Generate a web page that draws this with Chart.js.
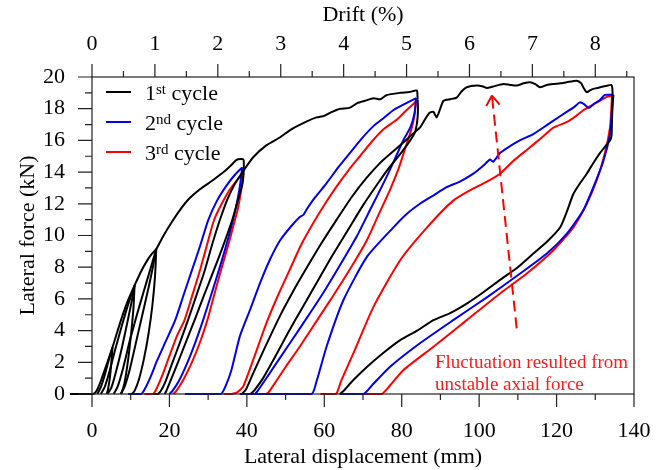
<!DOCTYPE html>
<html lang="en">
<head>
<meta charset="UTF-8">
<title>Lateral force vs lateral displacement</title>
<script src="https://cdn.jsdelivr.net/npm/chart.js"></script>
<style>
  html, body { margin: 0; padding: 0; background: #fff; }
  #wrap { width: 668px; height: 470px; }
</style>
</head>
<body>
<div id="wrap"><canvas id="loops"></canvas></div>
<script>
// axis ticks (mm, kN, % drift)
const dispTicks = [0, 20, 40, 60, 80, 100, 120, 140];
const dispMinor = [10, 30, 50, 70, 90, 110, 130];
const forceTicks = [0, 2, 4, 6, 8, 10, 12, 14, 16, 18, 20];
const forceMinor = [1, 3, 5, 7, 9, 11, 13, 15, 17, 19];
const driftTicks = [0, 1, 2, 3, 4, 5, 6, 7, 8];
const driftMinor = [0.5, 1.5, 2.5, 3.5, 4.5, 5.5, 6.5, 7.5, 8.5];
const mmPerDrift = 16.25;

// 1st cycle (black): [displacement mm, force kN]
const k_env = [[-5.7,0],[0,0],[0.7,0.05],[1.5,0.35],[2.4,0.9],[3.4,1.6],[4.4,2.3],[5.3,2.95],[6.5,3.9],[7.8,4.9],[9.3,5.9],[11,6.85],[12.6,7.7],[14.2,8.4],[15.5,8.85],[16.6,9.15],[18.5,10.0],[20.5,10.8],[22.7,11.6],[25,12.3],[27.8,12.9],[31.3,13.5],[34,14.0],[36,14.45],[37.4,14.78],[39.1,14.8],[39.2,14.0]];
const k_s1 = [[1.4,0],[2.3,0.45],[3.3,1.2],[4.4,2.2],[5.3,2.95]];
const k_s1u = [[5.3,2.95],[5.0,2.0],[4.6,1.0],[4.1,0.25],[3.8,0]];
const k_s2a = [[2.3,0],[3.3,0.45],[4.6,1.5],[6.1,2.9],[7.7,4.3],[9.4,5.7],[11,6.85]];
const k_s2b = [[4.0,0],[5.0,0.4],[6.3,1.5],[7.8,3.0],[9.2,4.6],[10.3,5.9],[11,6.85]];
const k_s2u = [[11,6.85],[10.7,5.4],[10.1,3.8],[9.3,2.1],[8.4,0.7],[7.6,0]];
const k_s3a = [[5.6,0],[6.6,0.45],[8,1.6],[9.8,3.4],[11.6,5.0],[13.4,6.5],[15.1,7.9],[16.6,9.15]];
const k_s3b = [[7.4,0],[8.4,0.45],[9.8,1.6],[11.5,3.4],[13.1,5.1],[14.6,6.7],[15.8,8.1],[16.6,9.15]];
const k_s3u = [[16.6,9.15],[16.3,7.5],[15.6,5.6],[14.6,3.8],[13.4,2.2],[12.1,0.9],[11,0.2],[10.3,0]];
const k_u39 = [[39.2,14.0],[38.9,13.3],[37.8,12.3],[36.2,10.96],[33.8,9.3],[31.3,7.7],[28.9,6.2],[26.5,4.66],[24.3,3.3],[22.2,2.0],[20.4,0.9],[19.3,0.25],[18.8,0]];
const k_l84 = [[15.8,0],[17,0],[17.8,0.2],[19,0.8],[20.8,2.0],[22.8,3.3],[24.8,4.66],[26.8,6.1],[29,7.7],[31,9.4],[33,10.96],[35,12.3],[37,13.3],[39.3,14.15],[41.7,14.95],[45.1,15.7],[48.6,16.2],[51.5,16.7],[55.5,17.2],[58,17.45],[60,17.55],[62,17.8],[64.1,18.0],[66.5,18.05],[68.5,18.35],[70.5,18.5],[72.7,18.66],[74.5,18.6],[76,18.85],[79.6,19.0],[82,19.05],[83.9,19.15],[84.1,18.6]];
const k_u84 = [[84.1,18.6],[84.2,18.0],[84.0,17.2],[83.4,16.5],[82.2,16.0],[79.8,15.2],[76.8,14.3],[73.6,13.2],[70,11.9],[66,10.3],[62,8.7],[58,7.0],[54,5.3],[50.5,3.8],[47.2,2.3],[44.2,1.0],[42,0.25],[41,0]];
const k_l134 = [[38.7,0],[39.8,0.3],[41.8,1.4],[44.8,3.0],[48.5,4.9],[52,6.5],[55.8,8.1],[59.5,9.6],[63.2,11.0],[67,12.4],[70.8,13.6],[74.5,14.6],[78.2,15.4],[81,16.0],[82.8,16.4],[84.7,16.8],[86.2,17.4],[87.2,17.75],[88.2,17.8],[89,17.45],[89.8,17.9],[90.8,18.5],[92.5,18.6],[94.2,18.7],[95.5,19.1],[96.8,19.35],[99.4,19.46],[101,19.4],[102,19.3],[103.6,19.4],[106.3,19.56],[108,19.5],[109.7,19.46],[111.5,19.6],[113.1,19.67],[114.5,19.55],[115.7,19.35],[117.5,19.5],[119.2,19.56],[121,19.6],[122.6,19.67],[125.2,19.77],[126.4,19.6],[126.9,19.35],[127.8,19.04],[128.6,19.15],[129.5,19.25],[130.5,19.3],[131.2,19.35],[133,19.45],[134.1,19.5],[134.4,19.3],[134.5,18.5]];
const k_u134 = [[134.5,18.5],[134.3,17.2],[134.2,16.3],[133.8,16.0],[131.2,15.2],[129.3,14.5],[127.8,13.9],[125.8,13.2],[124.3,12.6],[122.8,11.6],[120.9,10.5],[117.5,9.6],[114,8.86],[110,8.0],[105.4,7.2],[101,6.4],[96.8,5.7],[92.5,5.1],[88.2,4.66],[84,4.0],[79.6,3.4],[75.3,2.6],[71,1.7],[67.2,0.8],[65,0.2],[64,0]];

// 2nd cycle (blue)
const c2_l39 = [[9.3,0],[12.7,0],[13.6,0.3],[15,1.0],[16.8,2.1],[19,3.3],[21.5,4.66],[23.6,6.2],[25.8,7.8],[28,9.4],[30,10.96],[32.3,12.2],[34.6,13.1],[36.8,13.8],[38.8,14.3]];
const c2_u39 = [[38.8,14.3],[38.2,13.1],[37.2,11.8],[35.6,10.2],[33.5,8.4],[31.1,6.5],[28.7,4.66],[26.6,3.2],[24.5,1.9],[22.4,0.8],[20.8,0.2],[20,0]];
const c2_l84 = [[24,0],[33.3,0],[34.5,0.5],[36,1.5],[38.2,3.65],[40.8,5.3],[43.4,7.0],[46,8.5],[48.6,9.7],[51.5,10.6],[53.6,11.15],[54.6,11.3],[55.6,11.7],[57.6,12.4],[60.6,13.3],[63.6,14.3],[66.6,15.2],[69.6,16.1],[72.7,16.9],[75.3,17.4],[77.8,17.9],[80.8,18.3],[83.7,18.66]];
const c2_u84 = [[83.7,18.66],[83.3,17.7],[82.2,16.8],[80.4,16.0],[78,14.7],[75.3,13.3],[72,11.7],[68.4,9.95],[64,8.1],[59.8,6.4],[55.5,4.8],[51.1,3.2],[47.5,1.9],[44.5,0.8],[42.8,0.2],[42.1,0]];
const c2_l134 = [[38.2,0],[56.7,0],[58,0.8],[60.6,3.0],[64.9,5.9],[71,8.65],[77.8,10.5],[81,11.3],[84.7,12.0],[88,12.5],[91.6,13.05],[95,13.4],[98.5,13.9],[101.5,14.5],[102.8,14.8],[103.6,14.65],[105.4,15.2],[107.1,15.5],[110.5,16.0],[114,16.4],[116.5,16.8],[119.2,17.25],[122.6,17.8],[124.5,18.1],[126,18.4],[127,18.3],[128.4,18.05],[129.6,18.3],[131.2,18.55],[132.5,18.87],[134.7,18.87]];
const c2_u134 = [[134.7,18.87],[134.3,17.9],[133.8,16.4],[132.1,14.7],[129.5,13.05],[126.9,11.6],[122.6,10.1],[117.5,8.86],[110.6,7.6],[102,6.1],[93.3,4.66],[84.7,3.2],[77,1.72],[72.5,0.6],[70.1,0],[64,0]];

// 3rd cycle (red)
const c3_l39 = [[13.5,0],[15.8,0],[16.8,0.4],[18.2,1.2],[20,2.4],[22,3.7],[23.9,4.66],[26,6.3],[28,7.9],[29.8,9.5],[31.5,10.96],[33.5,12.0],[35.6,12.9],[37.5,13.5],[39,13.9]];
const c3_u39 = [[39,13.9],[38.5,12.8],[37.6,11.6],[36.9,10.96],[35.2,9.4],[33.3,7.8],[31.5,6.2],[29.8,4.66],[27.8,3.2],[25.8,2.0],[23.6,0.9],[21.8,0.2],[21,0]];
const c3_l84 = [[34,0],[36,0],[37.5,0.1],[39.1,0.5],[42,2.4],[45.1,4.5],[48,6.2],[51.1,7.85],[54,9.4],[57.2,10.8],[60.2,12.0],[63.2,13.1],[66.2,14.1],[69.2,15.0],[72.2,15.9],[75.3,16.7],[78.7,17.3],[81.2,17.9],[83.7,18.45]];
const c3_u84 = [[83.7,18.45],[83.3,17.6],[82.5,16.7],[81.3,15.8],[79.3,14.3],[77,12.9],[74,11.3],[71,9.7],[66.7,7.9],[62.3,6.2],[58,4.6],[53.7,3.0],[50,1.7],[47,0.6],[45.6,0.1],[45,0]];
const c3_l134 = [[59,0],[63,0],[64.3,0.8],[67.5,2.56],[72.7,5.5],[79.6,8.44],[86.5,10.5],[93.3,12.2],[98,12.9],[102,13.4],[105.4,13.9],[108.8,14.7],[112.3,15.4],[115.8,16.1],[119.2,16.8],[122.6,17.15],[124.8,17.5],[126.9,17.9],[129,18.2],[131.2,18.5],[133,18.75],[134.3,18.8]];
const c3_u134 = [[134.3,18.8],[134.1,17.8],[133.8,16.8],[132.5,15.2],[130.4,13.5],[127.8,12.0],[124.3,10.5],[119.2,9.07],[112.3,7.6],[105.4,6.34],[96.8,4.66],[88.2,2.98],[80.4,1.5],[76.5,0.4],[74.8,0],[70.1,0]];

const cycle1Lines = [k_env, k_s1, k_s1u, k_s2a, k_s2b, k_s2u, k_s3a, k_s3b, k_s3u, k_u39, k_l84, k_u84, k_l134, k_u134];
const cycle2Lines = [c2_l39, c2_u39, c2_l84, c2_u84, c2_l134, c2_u134];
const cycle3Lines = [c3_l39, c3_u39, c3_l84, c3_u84, c3_l134, c3_u134];

const cycleNames = [['1', 'st'], ['2', 'nd'], ['3', 'rd']];
const cycleColors = ['#000000', '#0000ee', '#ff0000'];

const noteLines = ['Fluctuation resulted from', 'unstable axial force'];
const noteAt = [88.6, 1.95];
const arrowTail = [109.7, 4.14];
const arrowHead = [103.3, 18.83];

const serif = "'Liberation Serif', 'Times New Roman', serif";
Chart.defaults.font.family = serif;
Chart.defaults.color = '#000';

const datasets = [];
[cycle1Lines, cycle2Lines, cycle3Lines].forEach((lines, i) => {
  lines.forEach(pts => datasets.push({
    data: pts.map(p => ({ x: p[0], y: p[1] })),
    borderColor: cycleColors[i],
    borderWidth: 2,
    pointRadius: 0,
    showLine: true,
    tension: 0.2,
    clip: false
  }));
});

// frame, tick marks, legend and the arrow note
const decorations = {
  id: 'decorations',
  afterDatasetsDraw(chart) {
    const { ctx, chartArea: a, scales } = chart;
    const xs = scales.x, ys = scales.y, dr = scales.drift;
    ctx.save();
    ctx.strokeStyle = '#222';
    ctx.lineWidth = 1.2;
    ctx.strokeRect(a.left, a.top, a.right - a.left, a.bottom - a.top);
    ctx.beginPath();
    dispTicks.forEach(v => { const p = xs.getPixelForValue(v); ctx.moveTo(p, a.bottom); ctx.lineTo(p, a.bottom + 13); });
    dispMinor.forEach(v => { const p = xs.getPixelForValue(v); ctx.moveTo(p, a.bottom); ctx.lineTo(p, a.bottom + 6); });
    forceTicks.forEach(v => { const p = ys.getPixelForValue(v); ctx.moveTo(a.left, p); ctx.lineTo(a.left - 14, p); });
    forceMinor.forEach(v => { const p = ys.getPixelForValue(v); ctx.moveTo(a.left, p); ctx.lineTo(a.left - 7, p); });
    driftTicks.forEach(v => { const p = dr.getPixelForValue(v); ctx.moveTo(p, a.top); ctx.lineTo(p, a.top - 13); });
    driftMinor.forEach(v => { const p = dr.getPixelForValue(v); ctx.moveTo(p, a.top); ctx.lineTo(p, a.top - 6); });
    ctx.stroke();

    // legend with superscript ordinals
    cycleNames.forEach((n, i) => {
      const base = 99.5 + i * 30;
      ctx.strokeStyle = cycleColors[i];
      ctx.lineWidth = 2;
      ctx.beginPath();
      ctx.moveTo(106, base - 7.5);
      ctx.lineTo(131, base - 7.5);
      ctx.stroke();
      ctx.fillStyle = '#000';
      ctx.textBaseline = 'alphabetic';
      ctx.textAlign = 'left';
      ctx.font = '22px ' + serif;
      ctx.fillText(n[0], 145, base);
      let x = 145 + ctx.measureText(n[0]).width;
      ctx.font = '15px ' + serif;
      ctx.fillText(n[1], x, base - 6);
      x += ctx.measureText(n[1]).width;
      ctx.font = '22px ' + serif;
      ctx.fillText(' cycle', x, base);
    });

    // dashed arrow
    const tx = xs.getPixelForValue(arrowTail[0]), ty = ys.getPixelForValue(arrowTail[1]);
    const hx = xs.getPixelForValue(arrowHead[0]), hy = ys.getPixelForValue(arrowHead[1]);
    const ang = Math.atan2(hy - ty, hx - tx);
    ctx.strokeStyle = '#ff0000';
    ctx.lineWidth = 2;
    ctx.setLineDash([11, 6]);
    ctx.beginPath();
    ctx.moveTo(tx, ty);
    ctx.lineTo(hx - Math.cos(ang) * 2, hy - Math.sin(ang) * 2);
    ctx.stroke();
    ctx.setLineDash([]);
    ctx.beginPath();
    [0.6, -0.6].forEach(d => {
      ctx.moveTo(hx, hy);
      ctx.lineTo(hx - Math.cos(ang + d) * 12, hy - Math.sin(ang + d) * 12);
    });
    ctx.stroke();

    ctx.fillStyle = '#ff1a1a';
    ctx.font = '19px ' + serif;
    ctx.textBaseline = 'middle';
    const nx = xs.getPixelForValue(noteAt[0]), ny = ys.getPixelForValue(noteAt[1]);
    noteLines.forEach((t, i) => ctx.fillText(t, nx, ny + i * 22));
    ctx.restore();
  }
};

new Chart(document.getElementById('loops'), {
  type: 'scatter',
  data: { datasets },
  options: {
    responsive: true,
    maintainAspectRatio: false,
    animation: false,
    devicePixelRatio: 1,
    layout: { padding: { left: 0, right: 34, top: 0, bottom: 0 } },
    plugins: { legend: { display: false }, tooltip: { enabled: false } },
    scales: {
      x: {
        type: 'linear', position: 'bottom', min: 0, max: 140,
        grid: { display: false, drawTicks: false }, border: { display: false },
        afterBuildTicks: s => { s.ticks = dispTicks.map(v => ({ value: v })); },
        ticks: { font: { size: 22 }, padding: 24, maxRotation: 0 },
        title: { display: true, text: 'Lateral displacement (mm)', font: { size: 22 }, padding: { top: 0, bottom: 0 } },
        afterFit: s => { s.height = 76; s.paddingLeft = 0; s.paddingRight = 0; }
      },
      drift: {
        type: 'linear', position: 'top', axis: 'x', min: 0, max: 140 / mmPerDrift,
        grid: { display: false, drawTicks: false }, border: { display: false },
        afterBuildTicks: s => { s.ticks = driftTicks.map(v => ({ value: v })); },
        ticks: { font: { size: 22 }, padding: 20, maxRotation: 0 },
        title: { display: true, text: 'Drift (%)', font: { size: 22 }, padding: { top: 2, bottom: 0 } },
        afterFit: s => { s.height = 77; s.paddingLeft = 0; s.paddingRight = 0; }
      },
      y: {
        type: 'linear', position: 'left', min: 0, max: 20,
        grid: { display: false, drawTicks: false }, border: { display: false },
        afterBuildTicks: s => { s.ticks = forceTicks.map(v => ({ value: v })); },
        ticks: { font: { size: 22 }, padding: 27 },
        title: { display: true, text: 'Lateral force (kN)', font: { size: 22 }, padding: { top: 15, bottom: 0 } },
        afterFit: s => { s.width = 92; s.paddingTop = 0; s.paddingBottom = 0; }
      }
    }
  },
  plugins: [decorations]
});
</script>
</body>
</html>
